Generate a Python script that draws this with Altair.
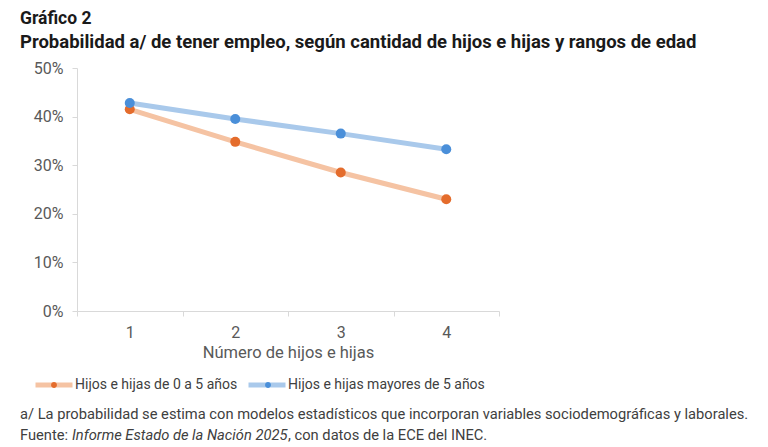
import altair as alt
import pandas as pd

hijos = [1, 2, 3, 4]
series = ["Hijos e hijas de 0 a 5 años", "Hijos e hijas mayores de 5 años"]
menores = [0.415, 0.348, 0.285, 0.230]
mayores = [0.428, 0.395, 0.365, 0.333]

rows = []
for s, vals in zip(series, [menores, mayores]):
    for h, v in zip(hijos, vals):
        rows.append({"hijos": h, "serie": s, "valor": v})
df = pd.DataFrame(rows)

font = "Roboto"
gray = "#595959"
light = "#d9d9d9"

x = alt.X("hijos:O", scale=alt.Scale(type="band", paddingInner=0, paddingOuter=0),
          axis=alt.Axis(title="Número de hijos e hijas", labelAngle=0, tickBand="extent",
                        domainColor=light, tickColor=light, tickSize=5,
                        labelColor=gray, labelFontSize=16, labelPadding=8,
                        titleColor=gray, titleFontSize=16.5, titleFontWeight="normal",
                        titlePadding=4, labelFont=font, titleFont=font))
y = alt.Y("valor:Q", scale=alt.Scale(domain=[0, 0.5]),
          axis=alt.Axis(title=None, values=[0, 0.1, 0.2, 0.3, 0.4, 0.5], format=".0%",
                        grid=False, domainColor=light, tickColor=light, tickSize=5,
                        labelColor=gray, labelFontSize=16, labelPadding=9, labelFont=font))

# legend = light line + small dark dot, drawn by two overlaid legends
seg = "M-1,0L1,0"
dot = "M-0.16,0A0.16,0.16,0,1,1,0.16,0A0.16,0.16,0,1,1,-0.16,0Z"
legend_common = dict(title=None, orient="none", legendX=-44, legendY=296,
                     direction="horizontal", symbolSize=1369, symbolStrokeWidth=5,
                     labelFontSize=14, labelFont=font, labelOffset=0, labelLimit=400)

lines = alt.Chart(df).mark_line(strokeWidth=5).encode(
    x=x, y=y,
    color=alt.Color("serie:N", scale=alt.Scale(domain=series, range=["#f5c3a3", "#a9c9eb"]),
                    legend=alt.Legend(symbolType=seg, symbolFillColor="transparent",
                                      labelColor="#404040", columnPadding=0,
                                      **legend_common)),
)

points = alt.Chart(df).mark_circle(size=100, opacity=1).encode(
    x=x, y=y,
    color=alt.Color("serie:N", scale=alt.Scale(domain=series, range=["#e46c2c", "#4a8fd9"]),
                    legend=alt.Legend(symbolType=dot, symbolOpacity=1,
                                      symbolStrokeColor="transparent", columnPadding=9,
                                      labelOpacity=0, **legend_common)),
)


def label(text, xp, yp, size, weight="normal", color="#404040", style="normal"):
    return alt.Chart(pd.DataFrame({"t": [text]})).mark_text(
        align="left", baseline="alphabetic", font=font, fontSize=size,
        fontWeight=weight, fontStyle=style, color=color,
    ).encode(text="t:N", x=alt.value(xp), y=alt.value(yp))


texts = [
    label("Gráfico 2", -57, -44, 17.5, "bold", "#1a1a1a"),
    label("Probabilidad a/ de tener empleo, según cantidad de hijos e hijas y rangos de edad",
          -57, -20, 18.5, "bold", "#1a1a1a"),
    label("a/ La probabilidad se estima con modelos estadísticos que incorporan variables "
          "sociodemográficas y laborales.", -57, 351, 14.7),
    label("Fuente: ", -57, 372, 14.7),
    label("Informe Estado de la Nación 2025", -5, 372, 14.7, style="italic"),
    label(", con datos de la ECE del INEC.", 211, 372, 14.7),
]

chart = alt.layer(lines, points, *texts).resolve_scale(color="independent").properties(
    width=422, height=243,
    autosize=alt.AutoSizeParams(type="none"),
    padding={"left": 69, "top": 60, "right": 261, "bottom": 132},
).configure_view(stroke=None)

chart.save("out.html", embed_options={"renderer": "svg", "actions": False})
